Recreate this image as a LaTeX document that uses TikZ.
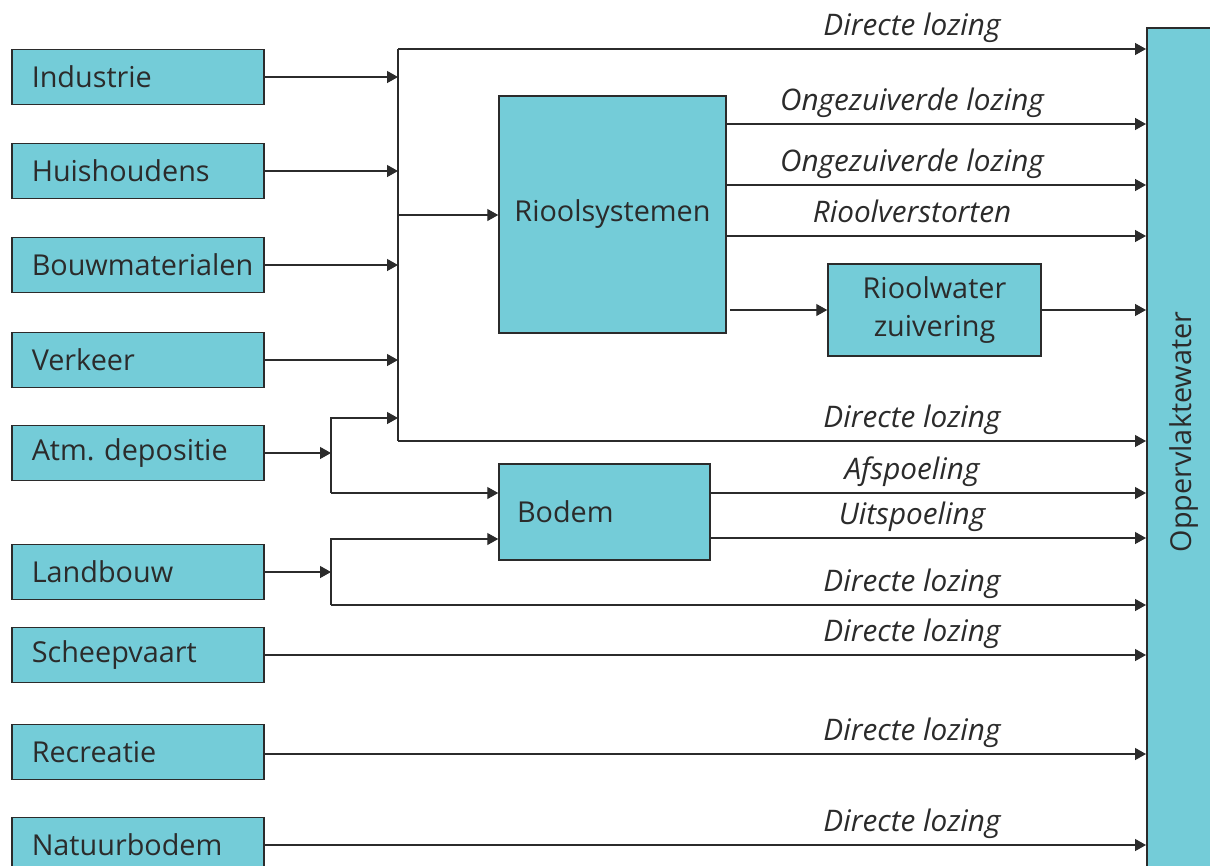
\documentclass[tikz,border=0pt]{standalone}
\usepackage{fontspec}
\setmainfont{Open Sans}
\usetikzlibrary{positioning,arrows.meta}
\definecolor{cyanfill}{HTML}{74CCD8}
\definecolor{ink}{HTML}{2B2B2B}

\begin{document}
\begin{tikzpicture}[x=1pt, y=-1pt, >={Triangle[length=11pt,width=12pt]},
    color=ink, line width=1.3pt, font=\fontsize{28.8}{38}\selectfont,
    box/.style={draw=ink, fill=cyanfill, line width=1.5pt, inner sep=0pt},
    src/.style={box, anchor=west, minimum height=55pt, text width=212pt, inner xsep=20pt, align=left},
    lbl/.style={font=\fontsize{29.7}{38}\selectfont\itshape, anchor=base}]
    \useasboundingbox (0,0) rectangle (1210,865);
    \clip (0,0) rectangle (1210,865);

    % sources
    \node[src] (ind) at (11,77) {Industrie};
    \node[src] (hh) at (11,171) {Huishoudens};
    \node[src] (bouw) at (11,265) {Bouwmaterialen};
    \node[src] (verk) at (11,360) {Verkeer};
    \node[src] (atm) at (11,453) {Atm.\ depositie};
    \node[src] (land) at (11,572) {Landbouw};
    \node[src] (schip) at (11,655) {Scheepvaart};
    \node[src] (recr) at (11,752) {Recreatie};
    \node[src] (natuur) at (11,845) {Natuurbodem};

    % intermediate compartments
    \node[box, minimum width=227pt, minimum height=237pt] (riool) at (612.5,214.5) {Rioolsystemen};
    \node[box, minimum width=211pt, minimum height=96pt, text width=175pt, inner xsep=18pt, align=left] (bodem) at (604.5,512) {Bodem};
    \node[box, minimum width=213pt, minimum height=92pt, align=center] (rwzi) at (934.5,310) {Rioolwater\\zuivering};

    % receiving water
    \node[box, anchor=north west, minimum width=100pt, minimum height=900pt] (opp) at (1146,27) {};
    \node[rotate=90] (opplbl) at (1184,432) {Oppervlaktewater};

    % collector bus
    \coordinate (bustop) at (398,49);
    \coordinate (busbot) at (398,441);
    \draw (bustop) -- (busbot);
    \draw[->] (bustop) -- (opp.west |- bustop);
    \draw[->] (busbot) -- (opp.west |- busbot);
    \node[lbl] (dl1) at (912,35) {Directe lozing};
    \node[lbl] (dl2) at (912,427) {Directe lozing};
    \draw[->] (ind) -- (ind -| bustop);
    \draw[->] (hh) -- (hh -| bustop);
    \draw[->] (bouw) -- (bouw -| bustop);
    \draw[->] (verk) -- (verk -| bustop);
    \draw[->] (bustop |- 0,215) -- (riool.west |- 0,215);

    % atmospheric deposition split
    \coordinate (atmtop) at (331,418);
    \coordinate (atmbot) at (331,493);
    \draw[->] (atm) -- (atm -| atmtop);
    \draw[->] (atmbot) -- (atmtop) -- (atmtop -| bustop);
    \draw[->] (atmbot) -- (atmbot -| bodem.west);

    % agriculture split
    \coordinate (landtop) at (331,539);
    \coordinate (landbot) at (331,605);
    \draw[->] (land) -- (land -| landtop);
    \draw[->] (landbot) -- (landtop) -- (landtop -| bodem.west);
    \draw[->] (landbot) -- (landbot -| opp.west);
    \node[lbl] (dl3) at (912,591) {Directe lozing};

    % sewer outputs
    \foreach \y/\txt in {124/Ongezuiverde lozing, 185/Ongezuiverde lozing, 236/Rioolverstorten}{
      \draw[->] (riool.east |- 0,\y) -- (opp.west |- 0,\y);
      \node[lbl] at (912,\y-14) {\txt};
    }
    \draw[->] ([xshift=3pt]riool.east |- rwzi) -- (rwzi);
    \draw[->] (rwzi) -- (rwzi -| opp.west);

    % soil outputs
    \draw[->] (bodem.east |- 0,493) -- (opp.west |- 0,493);
    \node[lbl] (afsp) at (912,479) {Afspoeling};
    \draw[->] (bodem.east |- 0,538) -- (opp.west |- 0,538);
    \node[lbl] (uitsp) at (912,524) {Uitspoeling};

    % direct discharges
    \draw[->] (schip) -- (schip -| opp.west);
    \node[lbl] (dl4) at (912,641) {Directe lozing};
    \draw[->] (recr.east |- 0,754) -- (opp.west |- 0,754);
    \node[lbl] (dl5) at (912,740) {Directe lozing};
    \draw[->] (natuur) -- (natuur -| opp.west);
    \node[lbl] (dl6) at (912,831) {Directe lozing};
  \end{tikzpicture}
\end{document}
